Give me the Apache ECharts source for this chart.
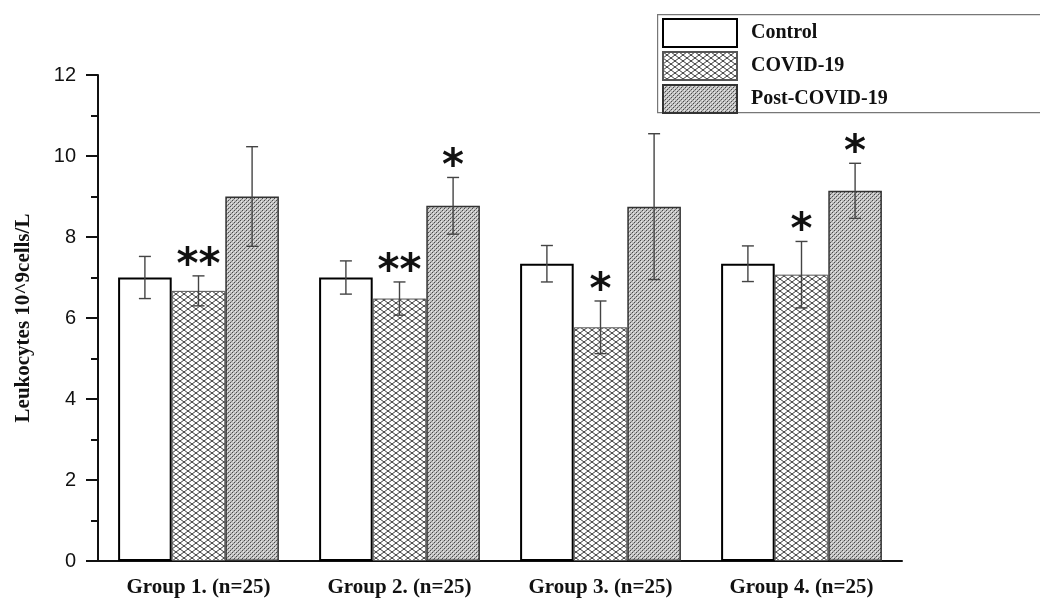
<!DOCTYPE html>
<html>
<head>
<meta charset="utf-8">
<script src="https://cdn.jsdelivr.net/npm/echarts@6/dist/echarts.min.js"></script>
<style>html,body{margin:0;padding:0;background:#fff}#c{width:1040px;height:598px}</style>
</head>
<body>
<div id="c"></div>
<script>
const categories = ['Group 1. (n=25)', 'Group 2. (n=25)', 'Group 3. (n=25)', 'Group 4. (n=25)'];
const seriesNames = ['Control', 'COVID-19', 'Post-COVID-19'];
const controlMean = [7.0, 7.0, 7.34, 7.34];
const controlErr = [0.52, 0.41, 0.45, 0.44];
const covidMean = [6.67, 6.48, 5.77, 7.07];
const covidErr = [0.37, 0.41, 0.65, 0.82];
const postMean = [9.0, 8.77, 8.75, 9.14];
const postErr = [1.23, 0.70, 1.80, 0.68];
const controlStars = ['', '', '', ''];
const covidStars = ['**', '**', '*', '*'];
const postStars = ['', '*', '', '*'];
const yTicks = [0, 2, 4, 6, 8, 10, 12];

function makePattern(w, h, draw) {
  const c = document.createElement('canvas');
  c.width = w; c.height = h;
  const ctx = c.getContext('2d');
  draw(ctx, w, h);
  return { image: c, repeat: 'repeat' };
}
const crossPattern = makePattern(8, 6, (ctx, w, h) => {
  ctx.fillStyle = '#ffffff'; ctx.fillRect(0, 0, w, h);
  ctx.strokeStyle = '#3a3a3a'; ctx.lineWidth = 1;
  ctx.beginPath();
  ctx.moveTo(0, 0); ctx.lineTo(w, h);
  ctx.moveTo(w, 0); ctx.lineTo(0, h);
  ctx.stroke();
});
const dotPattern = makePattern(4, 4, (ctx, w, h) => {
  ctx.fillStyle = '#c4c4c4'; ctx.fillRect(0, 0, w, h);
  ctx.fillStyle = '#4a4a4a';
  ctx.fillRect(0, 0, 1, 1); ctx.fillRect(2, 2, 1, 1);
  ctx.fillStyle = '#8a8a8a';
  ctx.fillRect(1, 3, 1, 1); ctx.fillRect(3, 1, 1, 1);
  ctx.fillStyle = '#e8e8e8';
  ctx.fillRect(1, 1, 1, 1); ctx.fillRect(3, 3, 1, 1);
});

const means = [controlMean, covidMean, postMean];
const errs = [controlErr, covidErr, postErr];
const stars = [controlStars, covidStars, postStars];

const errData = [];
const starData = [];
means.forEach((m, s) => {
  m.forEach((v, i) => {
    errData.push([i, v - errs[s][i], v + errs[s][i], s]);
    if (stars[s][i]) starData.push({ value: [i, v + errs[s][i], s], txt: stars[s][i] });
  });
});

const GAP = 0.2;
function barCenter(api, cat, s) {
  const band = api.size([1, 0])[0];
  const bw = band * (1 - GAP) / 3;
  return api.coord([cat, 0])[0] + (s - 1) * bw;
}

const serif = '"Liberation Serif", "Times New Roman", serif';
const chart = echarts.init(document.getElementById('c'), null, { renderer: 'canvas' });
chart.setOption({
  animation: false,
  backgroundColor: '#ffffff',
  grid: { left: 98, right: 138, top: 75, bottom: 36, containLabel: false },
  graphic: [{
    type: 'rect', left: 657, top: 14, z: 0,
    shape: { width: 400, height: 98 },
    style: { fill: '#ffffff', stroke: '#777777', lineWidth: 1.2 }
  }],
  legend: {
    orient: 'vertical', left: 657, top: 13, z: 5,
    itemWidth: 74, itemHeight: 28, itemGap: 3,
    icon: 'rect',
    data: seriesNames,
    textStyle: { fontFamily: serif, fontWeight: 'bold', fontSize: 20, color: '#111', padding: [8, 0, 0, 9] }
  },
  xAxis: [{
    type: 'category', data: categories,
    axisLine: { lineStyle: { color: '#111', width: 2 } },
    axisTick: { alignWithLabel: true, length: 8, lineStyle: { color: '#111', width: 2 } },
    axisLabel: { fontFamily: serif, fontWeight: 'bold', fontSize: 21, color: '#111', margin: 16 },
    splitLine: { show: false }
  }, {
    type: 'category', data: categories, position: 'bottom',
    axisLine: { show: false },
    axisTick: { length: 5, lineStyle: { color: '#111', width: 2 } },
    axisLabel: { show: false },
    splitLine: { show: false }
  }],
  yAxis: {
    type: 'value', min: yTicks[0], max: yTicks[yTicks.length - 1], interval: 2,
    name: 'Leukocytes 10^9cells/L', nameLocation: 'middle', nameGap: 64, nameRotate: 90,
    nameTextStyle: { fontFamily: serif, fontWeight: 'bold', fontSize: 21, color: '#111' },
    axisLine: { show: true, lineStyle: { color: '#111', width: 2 } },
    axisTick: { show: true, length: 12, lineStyle: { color: '#111', width: 2 } },
    minorTick: { show: true, splitNumber: 2, length: 7, lineStyle: { color: '#111', width: 2 } },
    axisLabel: { fontFamily: '"Liberation Sans", Arial, sans-serif', fontSize: 20, color: '#111', margin: 22 },
    splitLine: { show: false }
  },
  series: [
    {
      name: 'Control', type: 'bar', data: controlMean, barGap: '0%', barCategoryGap: '20%',
      itemStyle: { color: '#ffffff', borderColor: '#000', borderWidth: 2 }
    },
    {
      name: 'COVID-19', type: 'bar', data: covidMean, barGap: '0%', barCategoryGap: '20%',
      itemStyle: { color: crossPattern, borderColor: '#555', borderWidth: 1 }
    },
    {
      name: 'Post-COVID-19', type: 'bar', data: postMean, barGap: '0%', barCategoryGap: '20%',
      itemStyle: { color: dotPattern, borderColor: '#333', borderWidth: 1.5 }
    },
    {
      type: 'custom', name: 'err', data: errData, z: 10, silent: true,
      renderItem: function (params, api) {
        const cat = api.value(0), lo = api.value(1), hi = api.value(2), s = api.value(3);
        const cx = barCenter(api, cat, s);
        const yLo = api.coord([cat, lo])[1];
        const yHi = api.coord([cat, hi])[1];
        const cap = 6;
        const st = { stroke: '#444', lineWidth: 1.4 };
        return {
          type: 'group', children: [
            { type: 'line', shape: { x1: cx, y1: yLo, x2: cx, y2: yHi }, style: st },
            { type: 'line', shape: { x1: cx - cap, y1: yHi, x2: cx + cap, y2: yHi }, style: st },
            { type: 'line', shape: { x1: cx - cap, y1: yLo, x2: cx + cap, y2: yLo }, style: st }
          ]
        };
      }
    },
    {
      type: 'custom', name: 'stars', data: starData, z: 11, silent: true,
      renderItem: function (params, api) {
        const cat = api.value(0), hi = api.value(1), s = api.value(2);
        const cx = barCenter(api, cat, s);
        const y = api.coord([cat, hi])[1];
        return {
          type: 'text',
          style: {
            text: starData[params.dataIndex].txt,
            x: cx, y: y + 12,
            align: 'center', verticalAlign: 'bottom',
            font: 'bold 42px "DejaVu Sans", sans-serif',
            fill: '#111'
          }
        };
      }
    }
  ]
});
</script>
</body>
</html>
